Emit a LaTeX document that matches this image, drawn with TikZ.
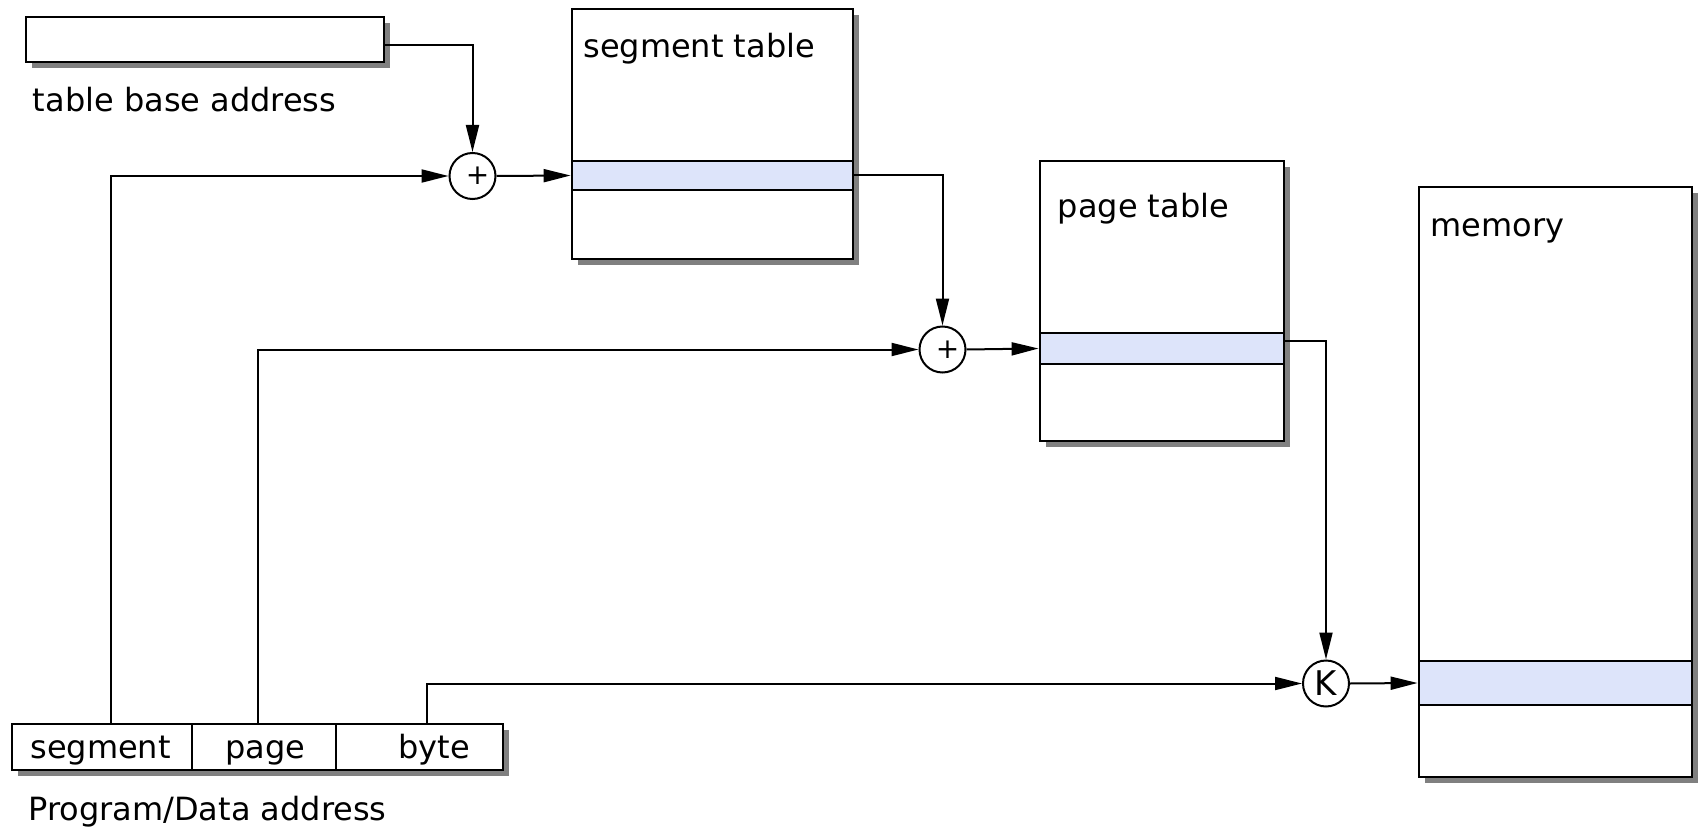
\documentclass[tikz,border=0pt]{standalone}
\usepackage{fontspec}
\setmainfont{DejaVu Sans}
\usetikzlibrary{arrows.meta,shadows}
\definecolor{rowblue}{RGB}{221,228,250}
\tikzset{
  box/.style={draw,line width=1.4pt,fill=white,inner sep=0pt,
    drop shadow={shadow xshift=3pt,shadow yshift=-3pt,fill=black!50,opacity=1}},
  row/.style={draw,line width=1.4pt,fill=rowblue,inner sep=0pt},
  lbl/.style={anchor=base west,inner sep=0pt,font=\fontsize{16}{19}\selectfont},
  adder/.style={circle,draw,line width=1pt,fill=white,minimum size=23pt,inner sep=0pt},
  arr/.style={line width=1pt,-{Triangle[length=13.5pt,width=6.5pt]}},
}
\begin{document}
\begin{tikzpicture}[x=0.5pt,y=-0.5pt]
\useasboundingbox (0,0) rectangle (1698,829);
% table base address
\node[box,minimum width=179pt,minimum height=22.5pt] (tba) at (205,39.5) {};
\node[lbl] (tbal) at (32.5,112) {table base address};
% segment table
\node[box,minimum width=140.5pt,minimum height=125pt] (st) at (712.5,134) {};
\node[row,minimum width=140.5pt,minimum height=14.5pt] (segrow) at (712.5,175.5) {};
\node[lbl] (stl) at (583,58) {segment table};
% page table
\node[box,minimum width=122pt,minimum height=140pt] (pt) at (1162,301) {};
\node[row,minimum width=122pt,minimum height=15.5pt] (pgrow) at (1162,348.5) {};
\node[lbl] (ptl) at (1057.5,217) {page table};
% memory
\node[box,minimum width=136.5pt,minimum height=295pt] (mem) at (1555.5,482) {};
\node[row,minimum width=136.5pt,minimum height=22pt] (memrow) at (1555.5,683) {};
\node[lbl] (meml) at (1430,236) {memory};
% program/data address
\node[box,minimum width=90pt,minimum height=23pt] (seg) at (102,747) {};
\node[box,minimum width=72pt,minimum height=23pt] (pg) at (264,747) {};
\node[box,minimum width=83.5pt,minimum height=23pt] (byte) at (419.5,747) {};
\node[lbl] (segl) at (30,758) {segment};
\node[lbl] (pgl) at (225,758) {page};
\node[lbl] (bytel) at (398,758) {byte};
\node[lbl] (pda) at (28,820) {Program/Data address};
% adders
\node[adder] (add1) at (472.5,176) {\raisebox{-2.5pt}{\fontsize{14}{14}\selectfont\kern5pt+}};
\node[adder] (add2) at (942.5,349.5) {\raisebox{-2.5pt}{\fontsize{14}{14}\selectfont\kern5pt+}};
\node[adder] (kc) at (1326,683.5) {\fontsize{17}{17}\selectfont K};
% connectors
\draw[arr] ([yshift=-3pt]tba.east) -| (add1.north);
\draw[arr] ([xshift=4.5pt]seg.north) |- (add1.west);
\draw[arr] (add1.east) -- (segrow.west);
\draw[arr] (segrow.east) -| (add2.north);
\draw[arr] ([xshift=-3pt]pg.north) |- (add2.west);
\draw[arr] (add2.east) -- (pgrow.west);
\draw[arr] ([yshift=3.75pt]pgrow.east) -| (kc.north);
\draw[arr] ([xshift=3.75pt]byte.north) |- (kc.west);
\draw[arr] (kc.east) -- (memrow.west);
\end{tikzpicture}
\end{document}
